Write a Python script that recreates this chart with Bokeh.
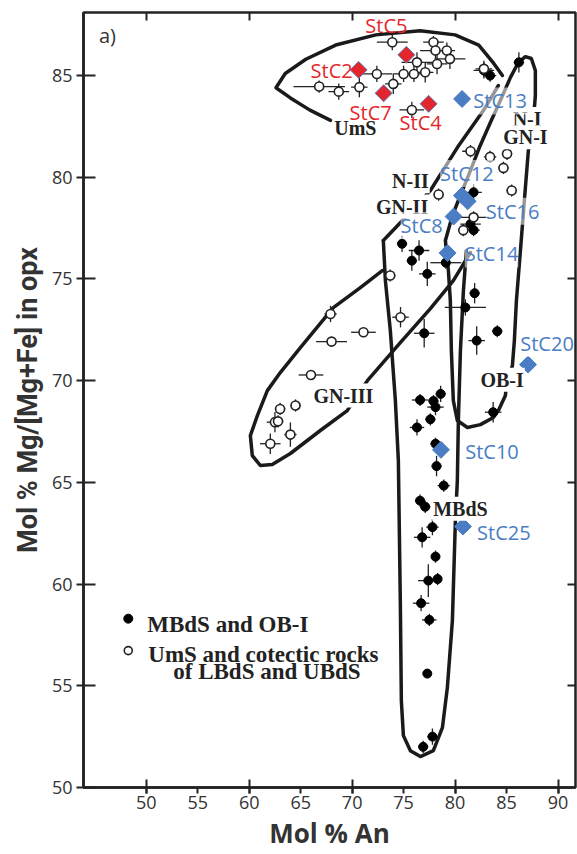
import numpy as np
from bokeh.plotting import figure
from bokeh.models import LinearAxis, FixedTicker, Label, Range1d
from bokeh.embed import file_html
from bokeh.resources import INLINE

# ---------------- data ----------------
# MBdS and OB-I (filled circles): An, Mg#, error An, error Mg#
fill_x = [82.8, 83.4, 86.2, 81.8, 81.5, 81.8, 79.1, 74.85, 76.5, 75.8, 77.3, 81.9, 81.0, 84.1, 82.1, 77.0,
          78.6, 76.6, 77.9, 78.1, 77.6, 76.3, 78.1, 83.7, 78.2, 78.9, 76.6, 77.1, 77.8, 76.8, 78.1, 77.4,
          78.3, 76.7, 77.5, 77.3, 77.8, 76.9]
fill_y = [85.25, 85.0, 85.65, 79.26, 77.7, 77.4, 75.8, 76.73, 76.4, 75.9, 75.25, 74.3, 73.6, 72.43, 71.97, 72.33,
          69.35, 69.05, 69.0, 68.7, 68.1, 67.7, 66.9, 68.45, 65.8, 64.84, 64.1, 63.8, 62.8, 62.3, 61.35, 60.17,
          60.25, 59.06, 58.24, 55.6, 52.5, 52.0]
fill_xe = [1.0, 0.6, 0.5, 0.8, 1.0, 0.6, 1.5, 0.5, 1.0, 0.5, 0.8, 0.5, 2.0, 0.5, 0.8, 1.0,
           0.5, 0.8, 0.5, 0.8, 0.5, 0.7, 0.5, 0.8, 0.5, 0.6, 0.5, 0.5, 0.6, 0.8, 0.4, 1.0,
           0.4, 0.8, 0.7, 0.3, 0.5, 0.5]
fill_ye = [0.4, 0.3, 0.5, 0.4, 0.3, 0.3, 0.3, 0.4, 0.5, 0.5, 0.6, 0.5, 0.4, 0.3, 0.7, 0.7,
           0.4, 0.3, 0.3, 0.4, 0.3, 0.4, 0.3, 0.5, 0.5, 0.3, 0.3, 0.3, 0.4, 0.5, 0.3, 0.8,
           0.3, 0.4, 0.3, 0.2, 0.4, 0.3]

# UmS and cotectic rocks of LBdS and UBdS (open circles)
open_x = [66.8, 68.7, 70.7, 72.4, 73.9, 74.0, 75.0, 76.3, 76.0, 77.1, 77.9, 78.1, 78.25, 79.2, 79.5, 75.8, 82.8,
          81.5, 83.4, 85.05, 84.7, 85.5, 78.4, 81.8, 80.8, 73.7, 74.7,
          67.9, 71.1, 68.0, 66.0, 64.5, 63.0, 62.5, 64.0, 62.05, 62.8]
open_y = [84.46, 84.21, 84.43, 85.08, 86.64, 84.59, 85.08, 85.65, 85.08, 85.16, 86.64, 86.23, 85.57, 86.23, 85.82, 83.31, 85.33,
          81.28, 81.0, 81.15, 80.46, 79.35, 79.15, 78.03, 77.4, 75.17, 73.12,
          73.28, 72.38, 71.92, 70.28, 68.78, 68.61, 67.96, 67.35, 66.9, 68.0]
open_xe = [2.5, 1.0, 0.8, 1.5, 1.5, 0.8, 1.0, 1.5, 1.0, 0.8, 1.0, 1.5, 1.0, 0.8, 1.5, 1.2, 0.8,
           0.8, 0.6, 0.5, 0.5, 0.5, 0.5, 1.5, 0.5, 0.5, 0.8,
           0.6, 1.2, 1.5, 1.2, 0.5, 0.5, 0.8, 0.6, 1.0, 0.5]
open_ye = [0.3, 0.4, 0.5, 0.4, 0.4, 0.5, 0.4, 0.5, 0.4, 0.5, 0.3, 0.4, 0.5, 0.4, 0.5, 0.4, 0.4,
           0.3, 0.3, 0.3, 0.3, 0.3, 0.3, 0.3, 0.3, 0.3, 0.5,
           0.4, 0.1, 0.1, 0.1, 0.3, 0.3, 0.5, 0.6, 0.5, 0.3]

# highlighted samples
red_names = ["StC5", "StC2", "StC7", "StC4"]
red_x = [75.27, 70.63, 73.06, 77.43]
red_y = [86.02, 85.28, 84.13, 83.61]
blue_names = ["StC13", "StC12", "StC16", "StC8", "StC14", "StC20", "StC10", "StC25"]
blue_x = [80.68, 80.66, 81.22, 79.86, 79.27, 87.09, 78.63, 80.76]
blue_y = [83.85, 79.10, 78.82, 78.07, 76.28, 70.79, 66.60, 62.83]

# field envelopes (An, Mg#)
ums_x = [67.9, 65.9, 64.0, 62.6, 63.5, 65.5, 68.4, 72.3, 76.6, 80.0, 82.3, 83.6, 84.6]
ums_y = [82.8, 83.3, 83.9, 84.4, 85.1, 85.8, 86.5, 87.0, 87.2, 87.0, 86.5, 85.7, 85.0]
ni_x = [79.06, 79.74, 80.71, 81.49, 82.36, 83.43, 84.40, 85.37, 86.15, 86.83, 87.41, 87.80, 87.80, 87.61,
        87.12, 86.73, 86.35, 85.96, 85.76, 85.57, 84.98, 84.89, 84.21, 83.72, 82.46, 81.20, 80.22, 79.83,
        79.64, 79.54, 79.35, 79.06]
ni_y = [76.89, 78.12, 79.35, 80.33, 81.46, 82.69, 83.77, 84.90, 85.64, 85.93, 85.84, 85.25, 84.02, 82.79,
        81.31, 78.85, 76.40, 73.94, 71.97, 70.74, 69.76, 69.27, 68.53, 68.19, 67.84, 67.70, 68.04, 69.02,
        71.48, 73.94, 75.41, 76.89]
mbds_x = [73.03, 73.23, 73.71, 74.20, 74.49, 74.68, 74.78, 74.98, 75.66, 76.63, 77.89, 78.77, 79.25,
          79.74, 80.03, 80.22, 80.32, 80.52, 80.81, 81.10]
mbds_y = [76.89, 74.92, 72.46, 69.02, 66.07, 59.19, 54.27, 52.55, 51.81, 51.52, 51.81, 52.94, 54.91,
          58.21, 63.12, 65.09, 68.04, 71.48, 74.43, 76.40]
gn2_x = [73.03, 74.98, 77.60, 80.22, 82.75, 84.21]
gn2_y = [76.89, 77.92, 79.35, 81.46, 83.28, 84.51]
gn3_x = [72.93, 70.80, 68.17, 64.97, 63.02, 61.76, 60.79, 60.11, 60.30, 61.08, 62.24, 64.00, 66.91, 69.53,
         71.48, 74.68, 77.60, 79.83, 81.49]
gn3_y = [75.41, 74.58, 73.59, 71.63, 70.40, 69.51, 68.28, 67.30, 66.32, 65.83, 65.88, 66.42, 67.55, 68.53,
         70.00, 71.87, 73.54, 74.92, 76.30]

# labels of fields
field_names = ["UmS", "N-I", "GN-I", "N-II", "GN-II", "GN-III", "OB-I", "MBdS"]
field_x = [70.31, 87.0, 86.83, 75.66, 74.85, 69.15, 84.57, 80.52]
field_y = [82.43, 82.87, 81.97, 79.80, 78.56, 69.27, 70.04, 63.70]

# legend entries
legend_labels = ["MBdS and OB-I", "UmS and cotectic rocks", "of LBdS and UBdS"]

# ---------------- figure ----------------
p = figure(width=577, height=854, output_backend="svg", toolbar_location=None,
           x_range=Range1d(43.9, 91.7), y_range=Range1d(50.0, 88.1),
           min_border_left=83, min_border_right=2, min_border_top=12, min_border_bottom=67,
           x_axis_location=None, y_axis_location=None)
p.grid.visible = False
p.background_fill_color = "white"
p.outline_line_color = "#222222"
p.outline_line_width = 2.5

TICKFONT = "Open Sans"
ax_b = LinearAxis(ticker=FixedTicker(ticks=[50, 55, 60, 65, 70, 75, 80, 85, 90],
                                     minor_ticks=[50, 60, 70, 80, 90]),
                  axis_label="Mol % An")
ax_b.major_tick_in = 0
ax_b.major_tick_out = 6
ax_b.minor_tick_in = 8
ax_b.minor_tick_out = 6
ax_l = LinearAxis(ticker=FixedTicker(ticks=[50, 55, 60, 65, 70, 75, 80, 85]),
                  axis_label="Mol % Mg/[Mg+Fe] in opx")
ax_l.major_tick_in = 12
ax_l.major_tick_out = 7
ax_l.minor_tick_in = 0
ax_l.minor_tick_out = 0
for ax in (ax_b, ax_l):
    ax.axis_line_color = "#222222"
    ax.axis_line_width = 2.5
    ax.major_tick_line_color = "#222222"
    ax.major_tick_line_width = 2
    ax.minor_tick_line_color = "#222222"
    ax.minor_tick_line_width = 2
    ax.major_label_text_font = TICKFONT
    ax.major_label_text_font_size = "18px"
    ax.major_label_text_color = "#333333"
    ax.axis_label_text_font_style = "bold"
    ax.axis_label_text_color = "#333333"
ax_b.major_label_standoff = 2
ax_b.axis_label_standoff = 3
ax_b.axis_label_text_font = "Open Sans"
ax_b.axis_label_text_font_size = "26px"
ax_l.major_label_standoff = 4
ax_l.axis_label_standoff = 5
ax_l.axis_label_text_font = "Roboto"
ax_l.axis_label_text_font_size = "27px"
p.add_layout(ax_b, "below")
p.add_layout(ax_l, "left")

# inward frame ticks on the right and top (minor ticks only, so no labels are drawn)
ax_r = LinearAxis(ticker=FixedTicker(ticks=[], minor_ticks=[55, 60, 65, 70, 75, 80, 85]))
ax_t = LinearAxis(ticker=FixedTicker(ticks=[], minor_ticks=[50, 60, 70, 80, 90]))
for ax in (ax_r, ax_t):
    ax.major_label_standoff = 0
    ax.major_tick_out = 0
    ax.major_tick_in = 0
    ax.minor_tick_in = 8
    ax.minor_tick_out = 0
    ax.minor_tick_line_color = "#222222"
    ax.minor_tick_line_width = 2
    ax.axis_line_color = None
p.add_layout(ax_r, "right")
p.add_layout(ax_t, "above")

# envelopes
env_kw = dict(line_color="#1a1a1a", line_width=3.5, line_cap="round", line_join="round")
for ex, ey in [(ums_x, ums_y), (ni_x, ni_y), (mbds_x, mbds_y), (gn2_x, gn2_y), (gn3_x, gn3_y)]:
    p.line(ex, ey, **env_kw)

# error bars
fx, fy, fxe, fye = map(np.array, (fill_x, fill_y, fill_xe, fill_ye))
ox, oy, oxe, oye = map(np.array, (open_x, open_y, open_xe, open_ye))
bar_kw = dict(line_color="#222222", line_width=1.3)
p.segment(fx - fxe, fy, fx + fxe, fy, **bar_kw)
p.segment(fx, fy - fye, fx, fy + fye, **bar_kw)
p.segment(ox - oxe, oy, ox + oxe, oy, **bar_kw)
p.segment(ox, oy - oye, ox, oy + oye, **bar_kw)

p.scatter(fill_x, fill_y, size=9, marker="circle", fill_color="black", line_color="black")
p.scatter(open_x, open_y, size=9, marker="circle", fill_color="white", line_color="#222222", line_width=1.6)

# field labels (they interrupt the envelope lines, as in the scan)
for name, x, y in zip(field_names, field_x, field_y):
    p.add_layout(Label(x=x, y=y, text=name, text_font="Liberation Serif", text_font_style="bold",
                       text_font_size="20px", text_color="#222222", text_align="center",
                       text_baseline="middle", background_fill_color="white",
                       background_fill_alpha=1.0, padding=1))

# highlighted samples
p.scatter(red_x, red_y, marker="square", angle=np.pi / 4, size=12, fill_color="#e3262b",
          line_color="#5b7fc0", line_width=1)
p.scatter(blue_x, blue_y, marker="square", angle=np.pi / 4, size=12, fill_color="#4a7dc3",
          line_color="#4a7dc3", line_width=1)

red_off = {"StC5": (-20, 29), "StC2": (-27, -1), "StC7": (-13, -19), "StC4": (-8, -19)}
blue_off = {"StC13": (38, -2), "StC12": (5, 22), "StC16": (45, -10), "StC8": (-32, -9),
            "StC14": (44, -1), "StC20": (19, 21), "StC10": (51, -2), "StC25": (41, -6)}
for name, x, y in zip(red_names, red_x, red_y):
    dx, dy = red_off[name]
    p.add_layout(Label(x=x, y=y, x_offset=dx, y_offset=dy, text=name, text_font="Open Sans",
                       text_font_size="20px", text_color="#e3262b", text_align="center",
                       text_baseline="middle"))
for name, x, y in zip(blue_names, blue_x, blue_y):
    dx, dy = blue_off[name]
    p.add_layout(Label(x=x, y=y, x_offset=dx, y_offset=dy, text=name, text_font="Open Sans",
                       text_font_size="20px", text_color="#4a7dc3", text_align="center",
                       text_baseline="middle", background_fill_color="white",
                       background_fill_alpha=0.55))

# panel letter
p.add_layout(Label(x=45.4, y=86.97, text="a)", text_font="Open Sans", text_font_size="20px",
                   text_color="#333333", text_baseline="middle"))

# legend (drawn inside the frame, as in the scan)
leg_x = 48.25
leg_y = [58.3, 56.73]
p.scatter([leg_x], [leg_y[0]], size=9, fill_color="black", line_color="black")
p.scatter([leg_x], [leg_y[1]], size=8, fill_color="white", line_color="#222222", line_width=1.6)
leg_kw = dict(text_font="Liberation Serif", text_font_style="bold", text_font_size="23px",
              text_color="#222222", text_baseline="middle")
p.add_layout(Label(x=leg_x, y=leg_y[0], x_offset=19, y_offset=-6, text=legend_labels[0], **leg_kw))
p.add_layout(Label(x=leg_x, y=leg_y[1], x_offset=20, y_offset=-4, text=legend_labels[1], **leg_kw))
p.add_layout(Label(x=leg_x, y=leg_y[1], x_offset=45, y_offset=-21, text=legend_labels[2], **leg_kw))

open("out.html", "w").write(file_html(p, INLINE))
